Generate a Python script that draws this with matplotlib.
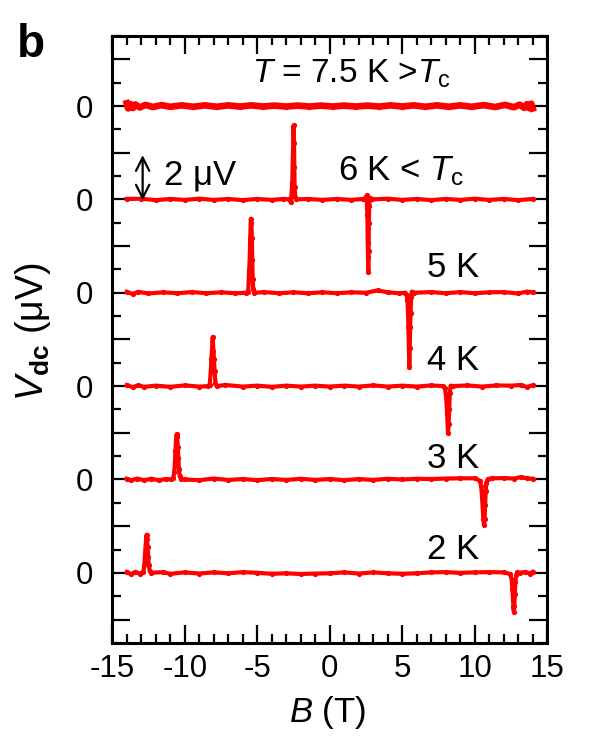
import matplotlib as mpl
mpl.use('Agg')
import matplotlib.pyplot as plt
from matplotlib.ticker import MultipleLocator, FixedLocator, FixedFormatter

plt.rcParams['font.family'] = ['Liberation Sans', 'DejaVu Sans']
plt.rcParams['mathtext.fontset'] = 'custom'
plt.rcParams['mathtext.rm'] = 'Liberation Sans'
plt.rcParams['mathtext.it'] = 'Liberation Sans:italic'
plt.rcParams['mathtext.bf'] = 'Liberation Sans:bold'

# temperatures, vertical offsets (uV) and (B, V) points
temps = ['2 K', '3 K', '4 K', '5 K', '6 K', '7.5 K']
offsets = [0, 4, 8, 12, 16, 20]

trace_2K = [(-14.0, 0.03), (-13.7, -0.06), (-13.4, 0.04), (-13.1, -0.03), (-12.85, 0.04),
            (-12.78, 0.35), (-12.74, 0.75), (-12.7, 1.15), (-12.66, 1.45), (-12.63, 1.63),
            (-12.6, 1.45), (-12.56, 1.1), (-12.52, 0.7), (-12.48, 0.35), (-12.42, 0.1),
            (-12.3, 0.0), (-11.5, 0.03), (-11, -0.04), (-10, 0.02), (-9, -0.03), (-8, 0.02),
            (-7, -0.02), (-6, 0.03), (-5, 0.0), (-4, -0.04), (-3, -0.02), (-2, -0.05),
            (-1, -0.03), (0, -0.02), (1, 0.02), (2, -0.03), (3, 0.02), (4, -0.02), (5, -0.04),
            (6, -0.02), (7, 0.02), (8, 0.03), (9, 0.0), (10, 0.02), (11, 0.03), (12, 0.02),
            (12.45, -0.05), (12.55, -0.3), (12.6, -0.7), (12.64, -1.1), (12.67, -1.45),
            (12.7, -1.67), (12.73, -1.4), (12.77, -0.9), (12.8, -0.4), (12.86, -0.1),
            (12.95, 0.02), (13.1, 0.0), (13.5, 0.04), (13.8, -0.03), (14.0, 0.04)]

trace_3K = [(-14.0, 0.03), (-13.7, -0.04), (-13.3, 0.04), (-12.8, -0.03), (-12.3, 0.03),
            (-11.8, -0.03), (-11.3, 0.02), (-10.95, 0.0), (-10.8, 0.05), (-10.72, 0.3),
            (-10.68, 0.7), (-10.64, 1.2), (-10.6, 1.65), (-10.56, 1.93), (-10.52, 1.8),
            (-10.48, 1.4), (-10.44, 0.9), (-10.4, 0.45), (-10.35, 0.15), (-10.25, 0.02),
            (-10.0, 0.0), (-9, -0.03), (-8, 0.04), (-7, -0.02), (-6, 0.02), (-5, -0.03),
            (-4, 0.02), (-3, -0.02), (-2, 0.03), (-1, -0.02), (0, 0.02), (1, -0.03), (2, 0.02),
            (3, -0.02), (4, 0.03), (5, 0.0), (6, 0.03), (7, 0.02), (8, 0.04), (9, 0.05),
            (10.0, 0.05), (10.35, -0.05), (10.45, -0.3), (10.5, -0.7), (10.55, -1.2),
            (10.6, -1.7), (10.64, -1.93), (10.68, -1.7), (10.72, -1.1), (10.76, -0.5),
            (10.8, -0.15), (10.9, 0.02), (11.2, 0.05), (12.0, 0.06), (12.7, 0.04),
            (13.2, 0.1), (13.6, 0.05), (14.0, 0.03)]

trace_4K = [(-14.0, 0.04), (-13.6, -0.04), (-13.2, 0.03), (-12.8, -0.03), (-12, 0.02),
            (-11, -0.03), (-10, 0.03), (-9, -0.02), (-8.4, 0.0), (-8.28, 0.05), (-8.2, 0.64),
            (-8.16, 1.16), (-8.12, 1.5), (-8.07, 2.1), (-8.02, 1.5), (-7.98, 1.16),
            (-7.94, 0.64), (-7.88, 0.15), (-7.8, 0.0), (-7.2, 0.05), (-6, -0.02), (-5, 0.02),
            (-4, -0.03), (-3, 0.02), (-2, -0.02), (-1, 0.02), (0, -0.02), (1, 0.02),
            (2, -0.02), (3, 0.03), (4, -0.02), (5, 0.02), (6, -0.02), (7, 0.03), (7.8, 0.0),
            (7.95, -0.1), (8.02, -0.4), (8.06, -0.77), (8.1, -1.2), (8.13, -1.63),
            (8.16, -2.0), (8.2, -1.63), (8.24, -1.0), (8.28, -0.3), (8.34, 0.02), (8.5, 0.0),
            (9.5, 0.03), (10.5, -0.02), (11.5, 0.03), (12.5, 0.02), (13.2, 0.05),
            (13.6, -0.04), (14.0, 0.04)]

trace_5K = [(-14.0, 0.04), (-13.6, -0.05), (-13.2, 0.04), (-12.5, -0.03), (-11.5, 0.02),
            (-10.5, -0.02), (-9.5, 0.03), (-8.5, -0.02), (-7.5, 0.02), (-6.5, -0.02),
            (-5.75, 0.0), (-5.62, 0.05), (-5.56, 0.94), (-5.52, 1.41), (-5.48, 2.36),
            (-5.44, 3.17), (-5.4, 3.0), (-5.37, 2.36), (-5.34, 1.41), (-5.31, 0.6),
            (-5.27, 0.15), (-5.2, 0.0), (-4.5, 0.03), (-3.5, -0.02), (-2.5, 0.02),
            (-1.5, -0.02), (-0.5, 0.02), (0.5, -0.02), (1.5, 0.02), (2.5, 0.0), (3.3, 0.1),
            (4.0, 0.02), (4.8, -0.02), (5.2, 0.0), (5.3, -0.1), (5.36, -0.3), (5.4, -0.86),
            (5.43, -1.46), (5.46, -2.36), (5.49, -3.2), (5.52, -2.36), (5.55, -1.46),
            (5.58, -0.86), (5.61, -0.2), (5.66, 0.05), (5.8, 0.0), (7, 0.03), (8, -0.02),
            (9, 0.03), (10, -0.02), (11, 0.02), (12, 0.03), (13, -0.03), (13.6, 0.05),
            (14.0, 0.02)]

trace_6K = [(-14.0, 0.02), (-13, 0.03), (-12, -0.03), (-11, 0.02), (-10, -0.02),
            (-9, 0.03), (-8, -0.02), (-7, 0.02), (-6, -0.03), (-5, 0.02), (-4, -0.02),
            (-3.2, 0.02), (-2.8, 0.0), (-2.68, -0.12), (-2.62, 0.35), (-2.58, 0.7),
            (-2.54, 1.9), (-2.51, 2.5), (-2.49, 3.17), (-2.46, 2.4), (-2.44, 1.4),
            (-2.42, 0.55), (-2.38, 0.1), (-2.3, 0.0), (-1.5, 0.02), (-0.5, -0.02),
            (0.5, 0.02), (1.5, -0.02), (2.3, 0.02), (2.5, 0.05), (2.55, 0.17), (2.58, -0.35),
            (2.6, -0.65), (2.62, -1.85), (2.64, -2.45), (2.66, -3.1), (2.68, -2.2),
            (2.7, -1.0), (2.72, -0.3), (2.76, 0.05), (2.9, 0.0), (4, 0.03), (5, -0.02),
            (6, 0.02), (7, -0.03), (8, 0.02), (9, -0.02), (10, 0.03), (11, -0.02),
            (12, 0.02), (13, -0.03), (14.0, 0.02)]

trace_75K = [(-14.0, 0.12), (-13.9, -0.1), (-13.75, 0.09), (-13.6, -0.08), (-13.4, 0.07),
             (-13.1, -0.06), (-12.7, 0.05), (-12.2, -0.04), (-11.6, 0.04), (-11.0, -0.03),
             (-10.2, 0.03), (-9.4, -0.03), (-8.6, 0.03), (-7.8, -0.03), (-7.0, 0.03),
             (-6.2, -0.02), (-5.4, 0.03), (-4.6, -0.02), (-3.8, 0.02), (-3.0, -0.02),
             (-2.2, 0.02), (-1.4, -0.02), (-0.6, 0.02), (0.2, -0.02), (1.0, 0.02),
             (1.8, -0.02), (2.6, 0.02), (3.4, -0.02), (4.2, 0.03), (5.0, -0.02), (5.8, 0.03),
             (6.6, -0.03), (7.4, 0.03), (8.2, -0.03), (9.0, 0.03), (9.8, -0.03),
             (10.6, 0.04), (11.4, -0.04), (12.1, 0.05), (12.7, -0.05), (13.1, 0.06),
             (13.4, -0.07), (13.6, 0.08), (13.75, -0.09), (13.9, 0.1), (14.0, -0.1)]

traces = [trace_2K, trace_3K, trace_4K, trace_5K, trace_6K, trace_75K]
line_widths = [3.0, 3.0, 3.0, 3.0, 3.0, 4.8]

fig = plt.figure(figsize=(6, 7.51), dpi=100)
ax = fig.add_axes([0.187, 0.144, 0.725, 0.808])

for pts, off, lw in zip(traces, offsets, line_widths):
    b = [p[0] for p in pts]
    v = [p[1] + off for p in pts]
    ax.plot(b, v, '-', color='#ff0000', lw=lw, marker='o', ms=3.8, mew=0)

ax.set_xlim(-15, 15)
ax.set_ylim(-3, 23)
ax.xaxis.set_minor_locator(MultipleLocator(1))
ax.set_xticks([-15, -10, -5, 0, 5, 10, 15], ['-15', '-10', '-5', '0', '5', '10', '15'])

yt = list(range(-2, 23, 2))
ax.yaxis.set_major_locator(FixedLocator(yt))
ax.yaxis.set_major_formatter(FixedFormatter(['0' if t % 4 == 0 else '' for t in yt]))
ax.yaxis.set_minor_locator(MultipleLocator(1))

ax.tick_params(which='both', direction='in', top=True, right=True, width=1.6, labelsize=22.5)
ax.tick_params(which='major', length=13, pad=8)
ax.tick_params(which='minor', length=6.5)
ax.tick_params(axis='y', which='major', pad=14)
for s in ax.spines.values():
    s.set_linewidth(2.2)

ax.set_xlabel(r'$B$ (T)', fontsize=25)
ax.set_ylabel(r'$V_{\mathbf{dc}}$ ($\mathrm{\mu}$V)', fontsize=27)
ax.xaxis.set_label_coords(0.494, -0.085)
ax.yaxis.set_label_coords(-0.135, 0.512)

ax.text(1.5, 21.4, r'$T$ = 7.5 K >$T_{\mathrm{c}}$', fontsize=24, ha='center', va='center')
ax.text(4.9, 17.2, r'6 K < $T_{\mathrm{c}}$', fontsize=25, ha='center', va='center')
for lab, y in zip(['5 K', '4 K', '3 K', '2 K'], [13.1, 9.1, 4.9, 1.0]):
    ax.text(8.5, y, lab, fontsize=25, ha='center', va='center')

ax.annotate('', xy=(-12.9, 15.95), xytext=(-12.9, 17.9),
            arrowprops=dict(arrowstyle='<->', lw=1.6, mutation_scale=24, color='black',
                            shrinkA=0, shrinkB=0))
ax.text(-11.45, 17.05, '2 μV', fontsize=25, ha='left', va='center')

fig.text(0.028, 0.94, 'b', fontsize=33, fontweight='bold', ha='left', va='center')

fig.savefig('out.png', dpi=100)
